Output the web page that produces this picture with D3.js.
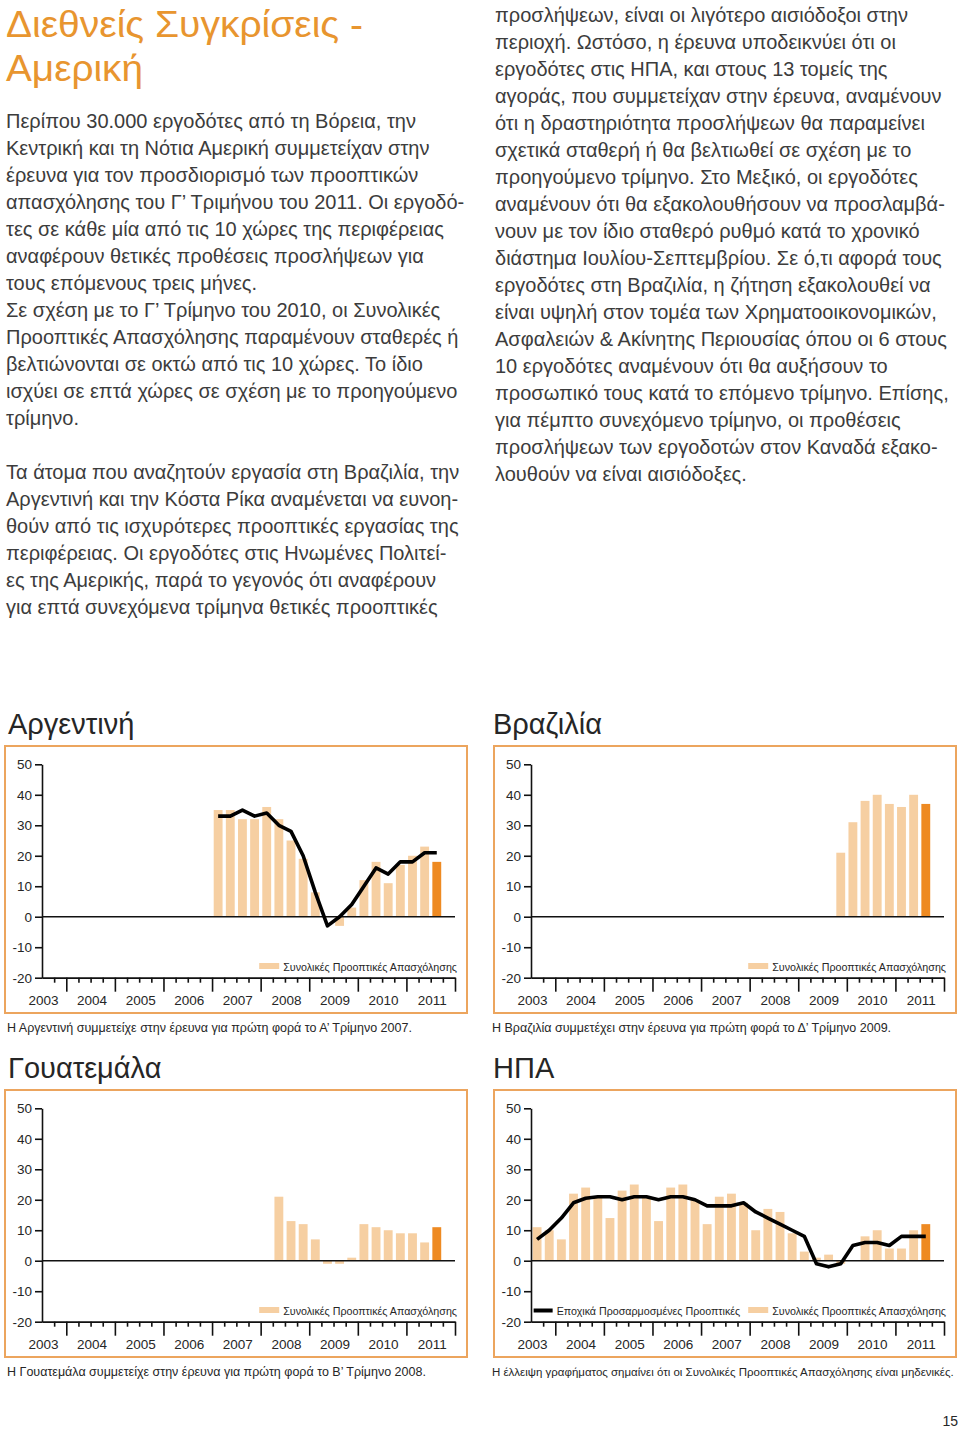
<!DOCTYPE html>
<html>
<head>
<meta charset="utf-8">
<script src="https://d3js.org/d3.v7.min.js"></script>
<style>
  body { margin: 0; background: #fff; }
  svg text { font-family: "Liberation Sans", Arial, sans-serif; }
</style>
</head>
<body>
<script>
var width = 960, height = 1432
var orange = '#ee8a22', peach = '#f6cfa2', boxColor = '#eca55e', ink = '#262626'

// axis runs from Q3 2003 to the end of 2011
var quarters = ['2003Q3', '2003Q4',
    '2004Q1', '2004Q2', '2004Q3', '2004Q4', '2005Q1', '2005Q2', '2005Q3', '2005Q4',
    '2006Q1', '2006Q2', '2006Q3', '2006Q4', '2007Q1', '2007Q2', '2007Q3', '2007Q4',
    '2008Q1', '2008Q2', '2008Q3', '2008Q4', '2009Q1', '2009Q2', '2009Q3', '2009Q4',
    '2010Q1', '2010Q2', '2010Q3', '2010Q4', '2011Q1', '2011Q2', '2011Q3', '2011Q4']
var years = [2003, 2004, 2005, 2006, 2007, 2008, 2009, 2010, 2011]
var yTicks = [-20, -10, 0, 10, 20, 30, 40, 50]

var argentinaStart = '2007Q1'
var argentinaTotal = [35, 35, 32, 32, 36, 32, 25, 19, 8, 0, -3, 3, 12, 18, 11, 17, 20, 23, 18]
var argentinaSeasonal = [33, 33, 35, 33, 34, 30, 28, 20, 8, -3, 0, 4, 10, 16, 14, 18, 18, 21, 21]

var brazilStart = '2009Q4'
var brazilTotal = [21, 31, 38, 40, 37, 36, 40, 37]

var guatemalaStart = '2008Q2'
var guatemalaTotal = [21, 13, 12, 7, -1, -1, 1, 12, 11, 10, 9, 9, 6, 11]

var usaStart = '2003Q3'
var usaTotal = [11, 10, 7, 22, 24, 21, 14, 23, 25, 21, 13, 24, 25, 20, 12, 21, 22,
    19, 10, 17, 16, 9, 3, 1, 2, -1, 0, 8, 10, 4, 4, 10, 12]
var usaSeasonal = [7, 10, 14, 19, 20.5, 21, 21, 20, 21, 21, 20, 21, 21, 20, 18, 18, 18,
    19, 16, 14, 12, 10, 8, -1, -2, -1, 5, 6, 6, 5, 8, 8, 8]

var leftText = [
    'Περίπου 30.000 εργοδότες από τη Βόρεια, την',
    'Κεντρική και τη Νότια Αμερική συμμετείχαν στην',
    'έρευνα για τον προσδιορισμό των προοπτικών',
    'απασχόλησης του Γ’ Τριμήνου του 2011. Οι εργοδό-',
    'τες σε κάθε μία από τις 10 χώρες της περιφέρειας',
    'αναφέρουν θετικές προθέσεις προσλήψεων για',
    'τους επόμενους τρεις μήνες.',
    'Σε σχέση με το Γ’ Τρίμηνο του 2010, οι Συνολικές',
    'Προοπτικές Απασχόλησης παραμένουν σταθερές ή',
    'βελτιώνονται σε οκτώ από τις 10 χώρες. Το ίδιο',
    'ισχύει σε επτά χώρες σε σχέση με το προηγούμενο',
    'τρίμηνο.',
    '',
    'Τα άτομα που αναζητούν εργασία στη Βραζιλία, την',
    'Αργεντινή και την Κόστα Ρίκα αναμένεται να ευνοη-',
    'θούν από τις ισχυρότερες προοπτικές εργασίας της',
    'περιφέρειας. Οι εργοδότες στις Ηνωμένες Πολιτεί-',
    'ες της Αμερικής, παρά το γεγονός ότι αναφέρουν',
    'για επτά συνεχόμενα τρίμηνα θετικές προοπτικές']
var rightText = [
    'προσλήψεων, είναι οι λιγότερο αισιόδοξοι στην',
    'περιοχή. Ωστόσο, η έρευνα υποδεικνύει ότι οι',
    'εργοδότες στις ΗΠΑ, και στους 13 τομείς της',
    'αγοράς, που συμμετείχαν στην έρευνα, αναμένουν',
    'ότι η δραστηριότητα προσλήψεων θα παραμείνει',
    'σχετικά σταθερή ή θα βελτιωθεί σε σχέση με το',
    'προηγούμενο τρίμηνο. Στο Μεξικό, οι εργοδότες',
    'αναμένουν ότι θα εξακολουθήσουν να προσλαμβά-',
    'νουν με τον ίδιο σταθερό ρυθμό κατά το χρονικό',
    'διάστημα Ιουλίου-Σεπτεμβρίου.  Σε ό,τι αφορά τους',
    'εργοδότες στη Βραζιλία, η ζήτηση εξακολουθεί να',
    'είναι υψηλή  στον τομέα των Χρηματοοικονομικών,',
    'Ασφαλειών & Ακίνητης Περιουσίας όπου οι 6 στους',
    '10 εργοδότες αναμένουν ότι θα αυξήσουν το',
    'προσωπικό τους κατά το επόμενο τρίμηνο. Επίσης,',
    'για πέμπτο συνεχόμενο τρίμηνο, οι προθέσεις',
    'προσλήψεων των εργοδοτών στον Καναδά εξακο-',
    'λουθούν να είναι αισιόδοξες.']

var svg = d3.select('body').append('svg').attr('width', width).attr('height', height)
svg.append('rect').attr('width', width).attr('height', height).attr('fill', '#fff')

// page title
svg.append('text').text('Διεθνείς Συγκρίσεις -').attr('x', 6).attr('y', 37)
    .attr('font-size', 36).attr('fill', '#e8952f')
    .attr('textLength', 357).attr('lengthAdjust', 'spacingAndGlyphs')
svg.append('text').text('Αμερική').attr('x', 6).attr('y', 81)
    .attr('font-size', 36).attr('fill', '#e8952f')
    .attr('textLength', 137).attr('lengthAdjust', 'spacingAndGlyphs')

// body text, size fitted on the first line
function textBlock(lines, x, y0) {
    var t = svg.selectAll(null).data(lines).enter().append('text')
        .text(function(d){return d})
        .attr('x', x).attr('y', function(d, i){return y0 + i*27})
        .attr('font-size', 18).attr('fill', '#3c3c3c')
    return t
}
var left = textBlock(leftText, 6, 128)
var right = textBlock(rightText, 495, 22)
var k = 18 * 410 / left.nodes()[0].getComputedTextLength()
left.attr('font-size', k)
right.attr('font-size', k)

function drawChart(c) {
    var g = svg.append('g').attr('transform', `translate(${c.left},${c.top})`)
    var x0 = 37, W = 413
    g.append('text').text(c.title).attr('x', c.textX - c.left).attr('y', -12)
        .attr('font-size', 29).attr('fill', ink)
    g.append('rect').attr('x', 0).attr('y', 0).attr('width', 462).attr('height', 267)
        .attr('fill', 'none').attr('stroke', boxColor).attr('stroke-width', 2)

    var y = d3.scaleLinear().domain([-20, 50]).range([231.7, 18.3])
    var xb = d3.scaleBand().domain(quarters).range([x0, x0 + W]).paddingInner(0.27).paddingOuter(0.135)
    var xt = d3.scaleLinear().domain([2003.5, 2012]).range([x0, x0 + W])
    var start = quarters.indexOf(c.start)
    var n = c.total.length

    var bars = c.total.map(function(v, i){return {q: quarters[start + i], v: v, last: i == n - 1}})
    g.selectAll('rect.bar').data(bars).enter().append('rect').attr('class', 'bar')
        .attr('x', function(d){return xb(d.q)}).attr('width', xb.bandwidth())
        .attr('y', function(d){return y(Math.max(0, d.v))})
        .attr('height', function(d){return Math.abs(y(d.v) - y(0))})
        .attr('fill', function(d){return d.last ? orange : peach})

    g.append('line').attr('x1', x0).attr('x2', x0 + W).attr('y1', y(0)).attr('y2', y(0))
        .attr('stroke', '#111').attr('stroke-width', 1.3)

    if (c.seasonal) {
        var pts = c.seasonal.map(function(v, i){return {q: quarters[start + i], v: v}})
        var line = d3.line().x(function(d){return xb(d.q) + xb.bandwidth()/2}).y(function(d){return y(d.v)})
        g.append('path').attr('d', line(pts)).attr('fill', 'none')
            .attr('stroke', '#000').attr('stroke-width', 3.6).attr('stroke-linejoin', 'round')
    }

    // y axis
    var ya = g.append('g').attr('transform', `translate(${x0},0)`)
        .call(d3.axisLeft(y).tickValues(yTicks).tickSize(7).tickSizeOuter(0).tickPadding(3)
            .tickFormat(function(d){return String(d)}))
    // x axis: quarter ticks, year ticks
    var minor = []
    years.forEach(function(yr){ [0.25, 0.5, 0.75].forEach(function(f){
        if (yr + f > 2003.5) minor.push(yr + f) }) })
    var xa1 = g.append('g').attr('transform', `translate(0,${y(-20)})`)
        .call(d3.axisBottom(xt).tickValues(minor).tickSize(5).tickSizeOuter(0).tickFormat(''))
    var xa2 = g.append('g').attr('transform', `translate(0,${y(-20)})`)
        .call(d3.axisBottom(xt).tickValues(d3.range(2004, 2013)).tickSize(14).tickSizeOuter(0).tickFormat(''))
    ;[ya, xa1, xa2].forEach(function(a){
        a.selectAll('path,line').attr('stroke', '#111').attr('stroke-width', 1.6)
        a.selectAll('text').attr('font-size', 13.5).attr('fill', ink)
            .attr('font-family', '"Liberation Sans", Arial, sans-serif')
    })
    g.selectAll('text.yr').data(years).enter().append('text').attr('class', 'yr')
        .text(function(d){return d})
        .attr('x', function(d){return xt(d + 0.5) + 1.5}).attr('y', 259)
        .attr('text-anchor', 'middle').attr('font-size', 13.5).attr('fill', ink)

    // legend
    var lt = g.append('text').text('Συνολικές Προοπτικές Απασχόλησης')
        .attr('x', x0 + W + 2).attr('y', 225).attr('text-anchor', 'end')
        .attr('font-size', 10.7).attr('fill', ink)
    var lw = lt.node().getComputedTextLength()
    var sx = x0 + W + 2 - lw - 24
    g.append('rect').attr('x', sx).attr('y', 217).attr('width', 20).attr('height', 6).attr('fill', peach)
    if (c.seasonal && c.lineLegend) {
        var lt2 = g.append('text').text('Εποχικά Προσαρμοσμένες Προοπτικές')
            .attr('x', sx - 8).attr('y', 225).attr('text-anchor', 'end')
            .attr('font-size', 10.7).attr('fill', ink)
        var lw2 = lt2.node().getComputedTextLength()
        g.append('line').attr('x1', sx - 8 - lw2 - 23).attr('x2', sx - 8 - lw2 - 4)
            .attr('y1', 220.5).attr('y2', 220.5).attr('stroke', '#000').attr('stroke-width', 4)
    }

    var cap = g.append('text').text(c.caption).attr('x', c.textX - c.left - 1).attr('y', 286)
        .attr('font-size', 12.5).attr('fill', ink)
    var cw = cap.node().getComputedTextLength()
    if (cw > 462) cap.attr('font-size', 12.5 * 462 / cw)
}

drawChart({left: 5, top: 746, textX: 8, title: 'Αργεντινή', start: argentinaStart,
    total: argentinaTotal, seasonal: argentinaSeasonal, lineLegend: false,
    caption: 'Η Αργεντινή συμμετείχε στην έρευνα για πρώτη φορά το Α’ Τρίμηνο 2007.'})
drawChart({left: 494, top: 746, textX: 493, title: 'Βραζιλία', start: brazilStart,
    total: brazilTotal, caption: 'Η Βραζιλία συμμετέχει στην έρευνα για πρώτη φορά το Δ’ Τρίμηνο 2009.'})
drawChart({left: 5, top: 1090, textX: 8, title: 'Γουατεμάλα', start: guatemalaStart,
    total: guatemalaTotal, caption: 'Η Γουατεμάλα συμμετείχε στην έρευνα για πρώτη φορά το Β’ Τρίμηνο 2008.'})
drawChart({left: 494, top: 1090, textX: 493, title: 'ΗΠΑ', start: usaStart,
    total: usaTotal, seasonal: usaSeasonal, lineLegend: true,
    caption: 'Η έλλειψη γραφήματος σημαίνει ότι οι Συνολικές Προοπτικές Απασχόλησης είναι μηδενικές.'})

svg.append('text').text('15').attr('x', 958).attr('y', 1426).attr('text-anchor', 'end')
    .attr('font-size', 14).attr('fill', ink)
</script>
</body>
</html>
